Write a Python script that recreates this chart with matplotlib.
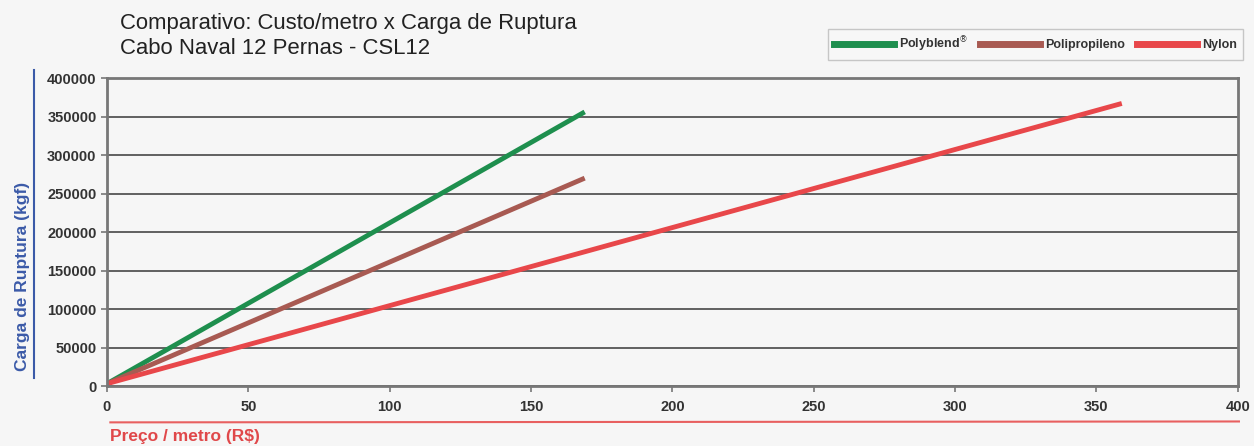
import matplotlib.pyplot as plt
from matplotlib.lines import Line2D

plt.rcParams['font.family'] = ['Liberation Sans', 'DejaVu Sans']

series = ['Polyblend', 'Polipropileno', 'Nylon']
preco = [[0, 169], [0, 169], [0, 359]]
carga = [[3000, 356000], [3000, 270000], [3000, 367000]]
cores = ['#1e8f4e', '#a85a52', '#e8474a']

x_ticks = [0, 50, 100, 150, 200, 250, 300, 350, 400]
y_ticks = [0, 50000, 100000, 150000, 200000, 250000, 300000, 350000, 400000]

fig = plt.figure(figsize=(12.54, 4.46), dpi=100, facecolor='#f6f6f6')
ax = fig.add_axes([0.0853, 0.1345, 0.9017, 0.6905])
ax.set_facecolor('#f6f6f6')

for px, cy, c in zip(preco, carga, cores):
    ax.plot(px, cy, color=c, lw=3.5, solid_capstyle='butt')

ax.set_xlim(0, 400)
ax.set_ylim(0, 400000)
ax.set_xticks(x_ticks)
ax.set_yticks(y_ticks)
ax.yaxis.grid(True, color='#555555', lw=1.3)
ax.set_axisbelow(True)
for s in ax.spines.values():
    s.set_color('#777777')
    s.set_linewidth(2)
ax.tick_params(colors='#777777', length=4, width=1.2, labelcolor='#333333', labelsize=10.5)
for lab in ax.get_xticklabels() + ax.get_yticklabels():
    lab.set_fontweight('bold')
ax.tick_params(axis='x', pad=6)

fig.text(0.096, 0.935, 'Comparativo: Custo/metro x Carga de Ruptura', fontsize=15.9, color='#222222')
fig.text(0.096, 0.88, 'Cabo Naval 12 Pernas - CSL12', fontsize=15.9, color='#222222')

fig.text(0.012, 0.381, 'Carga de Ruptura (kgf)', rotation=90, fontsize=12.5, fontweight='bold',
         color='#3b5aa8', va='center', ha='left')
fig.add_artist(Line2D([0.027, 0.027], [0.152, 0.843], color='#3b5aa8', lw=1.5))

fig.text(0.088, 0.005, 'Preço / metro (R$)', fontsize=12.5, fontweight='bold', color='#e0484a', va='bottom')
fig.add_artist(Line2D([0.088, 0.988], [0.053, 0.055], color='#e86060', lw=1.5))

labels = ['Polyblend$^{®}$', 'Polipropileno', 'Nylon']
handles = [Line2D([], [], color=c, lw=5) for c in cores]
leg = fig.legend(handles, labels, loc='upper right', bbox_to_anchor=(0.991, 0.935), ncol=3,
                 frameon=True, fancybox=False, edgecolor='#bbbbbb', facecolor='#f8f8f8',
                 handlelength=4.8, columnspacing=0.9, handletextpad=0.45, borderpad=0.45,
                 borderaxespad=0.0, prop={'size': 9, 'weight': 'bold'})
for t in leg.get_texts():
    t.set_color('#333333')

fig.savefig('out.png', dpi=100, facecolor=fig.get_facecolor())
